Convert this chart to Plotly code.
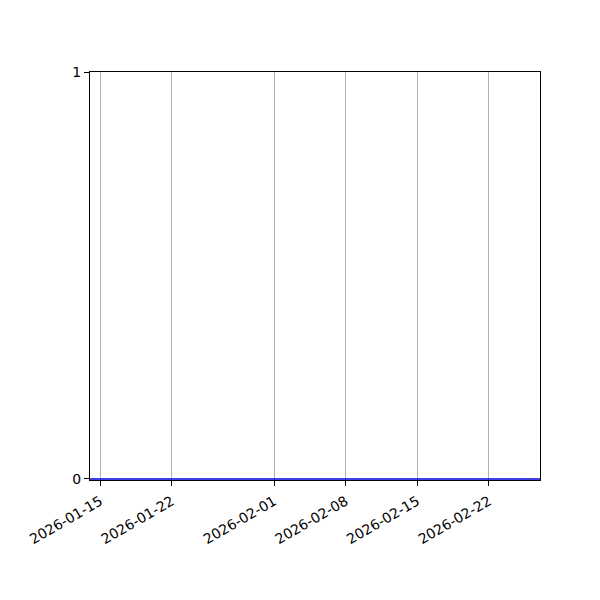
import plotly.graph_objects as go

dates = ["2026-01-14", "2026-02-27"]
values = [0, 0]
tick_dates = ["2026-01-15", "2026-01-22", "2026-02-01", "2026-02-08", "2026-02-15", "2026-02-22"]
y_ticks = [0, 1]

FONT = "DejaVu Sans"

fig = go.Figure(
    go.Scatter(
        x=dates,
        y=values,
        mode="lines",
        line={"color": "#0000d8", "width": 1.5},
        showlegend=False,
    )
)
fig.update_xaxes(
    type="date",
    range=[dates[0], dates[-1]],
    tickvals=tick_dates,
    ticktext=tick_dates,
    tickangle=-30,
    ticks="outside",
    ticklen=5,
    tickcolor="black",
    ticklabelstandoff=2,
    showgrid=True,
    gridcolor="#b0b0b0",
    gridwidth=1,
    showline=True,
    linecolor="black",
    linewidth=1,
    mirror=True,
    zeroline=False,
)
fig.update_yaxes(
    range=[-0.0025, 1],
    tickvals=y_ticks,
    ticks="outside",
    ticklen=5,
    tickcolor="black",
    showgrid=False,
    showline=True,
    linecolor="black",
    linewidth=1,
    mirror=True,
    zeroline=False,
)
# page body adds an 8px offset, so margins are shifted to compensate
fig.update_layout(
    width=600,
    height=600,
    margin={"l": 82, "r": 68, "t": 64, "b": 128},
    paper_bgcolor="white",
    plot_bgcolor="white",
    font={"family": FONT, "size": 14, "color": "black"},
)
fig.write_html("out.html")
